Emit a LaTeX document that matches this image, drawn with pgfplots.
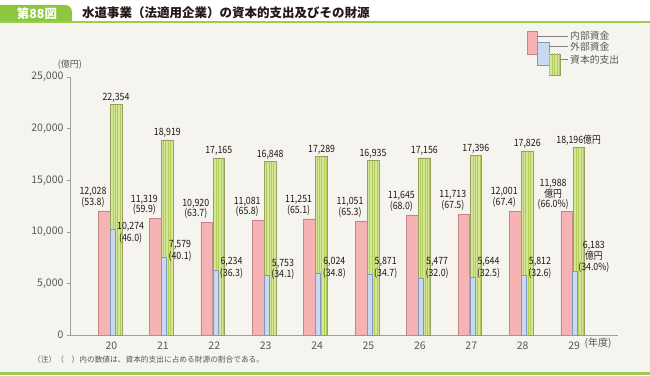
\documentclass[border=0pt]{standalone}
\usepackage{pgfplots}
\pgfplotsset{compat=1.18}
\usepackage{fontspec}
\setmainfont{Noto Sans CJK JP}
\newfontfamily\numfont[FakeStretch=0.88]{Noto Sans CJK JP}
\usetikzlibrary{patterns.meta}
\definecolor{bg}{HTML}{F5F4EF}
\definecolor{tabgreen}{HTML}{8DC63F}
\definecolor{linegreen}{HTML}{9BCB4F}
\definecolor{pinkfill}{HTML}{F5B3B3}
\definecolor{pinkdraw}{HTML}{C08888}
\definecolor{bluefill}{HTML}{C7DAF2}
\definecolor{bluedraw}{HTML}{8299BA}
\definecolor{greenfill}{HTML}{D5E796}
\definecolor{greenline}{HTML}{B2CC5A}
\definecolor{greendraw}{HTML}{98A060}
\definecolor{txt}{HTML}{231815}
\definecolor{ticktxt}{HTML}{595757}
\begin{document}
\begin{tikzpicture}[
  plab/.style={anchor=south, align=center, xshift=-18.5pt, yshift=3.5pt, inner sep=0, text=txt, font=\numfont\fontsize{10}{10.5}\selectfont},
  glab/.style={anchor=south, xshift=4.5pt, yshift=2pt, inner sep=0, text=txt, font=\numfont\fontsize{10}{10.5}\selectfont},
  blab/.style={anchor=west, align=center, xshift=5.5pt, inner sep=0, text=txt, font=\numfont\fontsize{10}{11.5}\selectfont}]
\begin{scope}[x=1pt,y=1pt,shift={(-70pt,-40pt)}]
\fill[bg] (0,0) rectangle (650,375);
\fill[white] (0,353) rectangle (650,375);
\fill[tabgreen] (0,353) -- (0,370) [rounded corners=7pt] -- (72,370) [sharp corners] -- (72,353) -- cycle;
\fill[linegreen] (0,351.5) rectangle (650,353.5);
\fill[linegreen] (0,0) rectangle (650,3);
\node[text=white, font=\bfseries\fontsize{12.5}{12.5}\selectfont] at (37,361.5) {第88図};
\node[anchor=west, text=txt, inner sep=0, font=\bfseries\fontsize{12.5}{12.5}\selectfont] at (82,362) {水道事業（法適用企業）の資本的支出及びその財源};
% legend
\draw[pinkdraw, fill=pinkfill, line width=0.5pt] (527,321) rectangle (537,344);
\draw[bluedraw, fill=bluefill, line width=0.5pt] (537,310) rectangle (549,332.3);
\draw[greendraw, fill=greenfill, line width=0.5pt, postaction={pattern color=greenline, pattern={Lines[angle=90,distance=2.4pt,line width=0.5pt]}}] (549,300) rectangle (560,321);
\draw[gray, line width=0.5pt] (537,339) -- (568,339);
\draw[gray, line width=0.5pt] (549,328.3) -- (568,328.3);
\draw[gray, line width=0.5pt] (560,315.7) -- (568,315.7);
\begin{scope}[every node/.style={anchor=west, inner sep=0, text=ticktxt, font=\fontsize{9.8}{10}\selectfont}]
\node at (570,339) {内部資金};
\node at (570,328.3) {外部資金};
\node at (570,315.7) {資本的支出};
\end{scope}
\node[text=ticktxt, inner sep=0, font=\fontsize{9}{9}\selectfont] at (70,310) {(億円)};
\node[text=ticktxt, inner sep=0, font=\fontsize{10}{10}\selectfont] at (598,32) {(年度)};
\node[anchor=west, text=ticktxt, inner sep=0, font=\fontsize{7.7}{8}\selectfont] at (33,15) {（注）（　）内の数値は、資本的支出に占める財源の割合である。};
\end{scope}
\begin{axis}[
  at={(0pt,0pt)}, anchor=south west, scale only axis,
  width=548pt, height=258pt,
  xmin=-0.807, xmax=9.854, ymin=0, ymax=25000,
  axis lines*=left,
  axis line style={draw=gray!75, line width=0.6pt},
  xtick={0,...,9}, xticklabels={20,21,22,23,24,25,26,27,28,29},
  ytick={0,5000,10000,15000,20000,25000},
  scaled y ticks=false,
  /pgf/number format/.cd, 1000 sep={,}, assume math mode=true, /pgfplots/.cd,
  major x tick style={draw=none},
  major y tick style={draw=gray!75, line width=0.5pt},
  tick align=outside, major tick length=3pt,
  tick label style={text=ticktxt, font=\fontsize{10.5}{10.5}\selectfont},
  clip=false,
]
\addplot[ybar, bar width=11.7pt, bar shift=-7.5pt, fill=pinkfill, draw=pinkdraw, line width=0.5pt]
  coordinates {(0,12028) (1,11319) (2,10920) (3,11081) (4,11251) (5,11051) (6,11645) (7,11713) (8,12001) (9,11988)};
\addplot[ybar, bar width=11.7pt, bar shift=4.5pt, fill=greenfill, draw=greendraw, line width=0.5pt,
  postaction={pattern color=greenline, pattern={Lines[angle=90,distance=2.4pt,line width=0.5pt]}}]
  coordinates {(0,22354) (1,18919) (2,17165) (3,16848) (4,17289) (5,16935) (6,17156) (7,17396) (8,17826) (9,18196)};
\addplot[ybar, bar width=5pt, bar shift=1pt, fill=bluefill, draw=bluedraw, line width=0.5pt]
  coordinates {(0,10274) (1,7579) (2,6234) (3,5753) (4,6024) (5,5871) (6,5477) (7,5644) (8,5812) (9,6183)};
% pink labels
\node[plab] at (axis cs:0,12028) {12,028\\(53.8)};
\node[plab] at (axis cs:1,11319) {11,319\\(59.9)};
\node[plab] at (axis cs:2,10920) {10,920\\(63.7)};
\node[plab] at (axis cs:3,11081) {11,081\\(65.8)};
\node[plab] at (axis cs:4,11251) {11,251\\(65.1)};
\node[plab] at (axis cs:5,11051) {11,051\\(65.3)};
\node[plab] at (axis cs:6,11645) {11,645\\(68.0)};
\node[plab] at (axis cs:7,11713) {11,713\\(67.5)};
\node[plab] at (axis cs:8,12001) {12,001\\(67.4)};
\node[plab, xshift=-2.5pt, yshift=-2pt] at (axis cs:9,11988) {11,988\\億円\\(66.0\%)};
% green labels
\node[glab] at (axis cs:0,22354) {22,354};
\node[glab] at (axis cs:1,18919) {18,919};
\node[glab] at (axis cs:2,17165) {17,165};
\node[glab] at (axis cs:3,16848) {16,848};
\node[glab] at (axis cs:4,17289) {17,289};
\node[glab] at (axis cs:5,16935) {16,935};
\node[glab] at (axis cs:6,17156) {17,156};
\node[glab] at (axis cs:7,17396) {17,396};
\node[glab] at (axis cs:8,17826) {17,826};
\node[glab] at (axis cs:9,18196) {18,196億円};
% blue labels
\node[blab] at (axis cs:0,9884) {10,274\\(46.0)};
\node[blab] at (axis cs:1,8140) {7,579\\(40.1)};
\node[blab] at (axis cs:2,6492) {6,234\\(36.3)};
\node[blab] at (axis cs:3,6347) {5,753\\(34.1)};
\node[blab] at (axis cs:4,6492) {6,024\\(34.8)};
\node[blab] at (axis cs:5,6492) {5,871\\(34.7)};
\node[blab] at (axis cs:6,6492) {5,477\\(32.0)};
\node[blab] at (axis cs:7,6492) {5,644\\(32.5)};
\node[blab] at (axis cs:8,6492) {5,812\\(32.6)};
\node[blab, xshift=-1.5pt, font=\numfont\fontsize{10}{11}\selectfont] at (axis cs:9,7558) {6,183\\億円\\(34.0\%)};
\end{axis}
\end{tikzpicture}
\end{document}
